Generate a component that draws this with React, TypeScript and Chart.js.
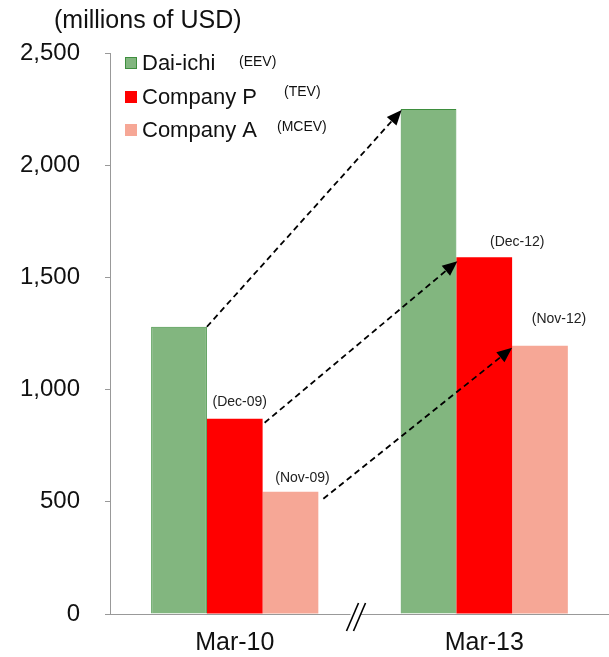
import React, { useEffect, useRef } from "react";
import { Chart, registerables } from "chart.js";

Chart.register(...registerables);

const categories = ["Mar-10", "Mar-13"];
const seriesNames = ["Dai-ichi", "Company P", "Company A"];
const seriesTags = ["(EEV)", "(TEV)", "(MCEV)"];
const daiichi = [1280, 2250];
const companyP = [870, 1590];
const companyA = [545, 1195];
const dateLabelsP = ["(Dec-09)", "(Dec-12)"];
const dateLabelsA = ["(Nov-09)", "(Nov-12)"];
const yTicks = [0, 500, 1000, 1500, 2000, 2500];

const FONT = "'Liberation Sans', Arial, sans-serif";

const overlayPlugin = {
  id: "overlay",
  afterDatasetsDraw(chart: any) {
    const ctx = chart.ctx as CanvasRenderingContext2D;
    const metas = [0, 1, 2].map((i) => chart.getDatasetMeta(i));
    ctx.save();

    // dashed arrows from each Mar-10 bar to the matching Mar-13 bar
    const arrow = (x1: number, y1: number, x2: number, y2: number) => {
      const ang = Math.atan2(y2 - y1, x2 - x1);
      const head = 15;
      const hx = x2 - Math.cos(ang) * head;
      const hy = y2 - Math.sin(ang) * head;
      ctx.strokeStyle = "#000";
      ctx.lineWidth = 1.8;
      ctx.setLineDash([6, 4]);
      ctx.beginPath();
      ctx.moveTo(x1, y1);
      ctx.lineTo(hx, hy);
      ctx.stroke();
      ctx.setLineDash([]);
      ctx.fillStyle = "#000";
      ctx.beginPath();
      ctx.moveTo(x2, y2);
      ctx.lineTo(hx + Math.cos(ang + Math.PI / 2) * 6.5, hy + Math.sin(ang + Math.PI / 2) * 6.5);
      ctx.lineTo(hx + Math.cos(ang - Math.PI / 2) * 6.5, hy + Math.sin(ang - Math.PI / 2) * 6.5);
      ctx.closePath();
      ctx.fill();
    };
    const half = (b: any) => b.width / 2;
    const b0 = metas[0].data;
    const b1 = metas[1].data;
    const b2 = metas[2].data;
    arrow(b0[0].x + half(b0[0]), b0[0].y, b0[1].x - half(b0[1]) + 1, b0[1].y + 1);
    arrow(b1[0].x + half(b1[0]) + 2, b1[0].y + 4, b1[1].x - half(b1[1]) + 1, b1[1].y + 4);
    arrow(b2[0].x + half(b2[0]) + 5, b2[0].y + 7, b2[1].x - half(b2[1]), b2[1].y + 2);

    // date labels
    ctx.fillStyle = "#222";
    ctx.font = `14px ${FONT}`;
    ctx.textAlign = "center";
    ctx.textBaseline = "alphabetic";
    const pDx = [5, 33];
    const pDy = [13, 11];
    const aDx = [12, 19];
    const aDy = [10, 23];
    b1.forEach((b: any, i: number) => ctx.fillText(dateLabelsP[i], b.x + pDx[i], b.y - pDy[i]));
    b2.forEach((b: any, i: number) => ctx.fillText(dateLabelsA[i], b.x + aDx[i], b.y - aDy[i]));

    // axis break mark
    const xs = chart.scales.x;
    const ys = chart.scales.y;
    const mx = (xs.getPixelForValue(0) + xs.getPixelForValue(1)) / 2 - 4;
    const my = ys.getPixelForValue(0);
    ctx.fillStyle = "#fff";
    ctx.fillRect(mx - 5, my - 3, 10, 6);
    ctx.strokeStyle = "#000";
    ctx.lineWidth = 1.6;
    [-3, 4].forEach((dx) => {
      ctx.beginPath();
      ctx.moveTo(mx + dx + 6, my - 11);
      ctx.lineTo(mx + dx - 6, my + 17);
      ctx.stroke();
    });

    // title
    ctx.fillStyle = "#111";
    ctx.font = `25px ${FONT}`;
    ctx.textAlign = "left";
    ctx.textBaseline = "middle";
    ctx.fillText("(millions of USD)", 54, 21);

    // legend
    const legendY = [63, 97, 130];
    const ds = chart.data.datasets;
    const tagX = [239, 284, 277];
    const tagY = [62, 92, 127];
    legendY.forEach((y: number, i: number) => {
      ctx.fillStyle = ds[i].backgroundColor;
      ctx.fillRect(125, y - 6, 12, 12);
      if (i === 0) {
        ctx.strokeStyle = ds[i].borderColor;
        ctx.lineWidth = 1;
        ctx.strokeRect(125.5, y - 5.5, 11, 11);
      }
      ctx.fillStyle = "#111";
      ctx.font = `22px ${FONT}`;
      ctx.textAlign = "left";
      ctx.textBaseline = "middle";
      ctx.fillText(seriesNames[i], 142, y + 1);
      ctx.font = `14px ${FONT}`;
      ctx.fillText(seriesTags[i], tagX[i], tagY[i]);
    });
    ctx.restore();
  },
};

export default function App() {
  const ref = useRef<HTMLCanvasElement | null>(null);
  useEffect(() => {
    if (!ref.current) return;
    const chart = new Chart(ref.current, {
      type: "bar",
      data: {
        labels: categories,
        datasets: [
          {
            label: seriesNames[0],
            data: daiichi,
            backgroundColor: "#82b67f",
            borderColor: "#3e8e3e",
            borderWidth: 1,
          },
          {
            label: seriesNames[1],
            data: companyP,
            backgroundColor: "#ff0000",
            borderWidth: 0,
          },
          {
            label: seriesNames[2],
            data: companyA,
            backgroundColor: "#f6a796",
            borderWidth: 0,
          },
        ],
      },
      options: {
        animation: false,
        responsive: false,
        layout: { padding: { top: 53, right: 0, left: 0, bottom: 0 } },
        plugins: { legend: { display: false }, tooltip: { enabled: false }, title: { display: false } },
        datasets: { bar: { categoryPercentage: 0.67, barPercentage: 1.0 } },
        scales: {
          x: {
            grid: { display: false },
            border: { display: true, color: "#999", width: 1 },
            ticks: { color: "#111", font: { size: 25, family: FONT }, padding: 6 },
            afterFit: (s: any) => {
              s.height = 43;
            },
          },
          y: {
            min: 0,
            max: 2500,
            afterBuildTicks: (s: any) => {
              s.ticks = yTicks.map((v) => ({ value: v }));
            },
            grid: { drawOnChartArea: false, drawTicks: true, tickLength: 5, color: "#999" },
            border: { display: true, color: "#999", width: 1 },
            ticks: {
              color: "#111",
              font: { size: 24, family: FONT },
              padding: 25,
              callback: (v: any) => Number(v).toLocaleString("en-US"),
            },
            afterFit: (s: any) => {
              s.width = 110;
            },
          },
        },
      },
      plugins: [overlayPlugin],
    });
    return () => chart.destroy();
  }, []);
  return (
    <div style={{ position: "absolute", left: 0, top: 0, width: 609, height: 657, background: "#fff" }}>
      <canvas ref={ref} width={609} height={657} style={{ width: 609, height: 657 }} />
    </div>
  );
}
